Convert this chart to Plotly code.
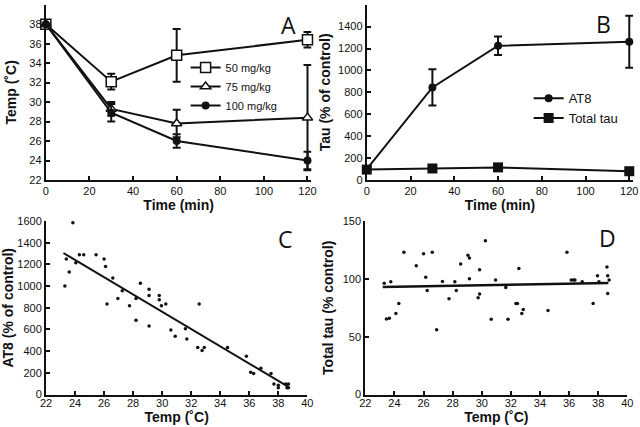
import plotly.graph_objects as go

# ---------------- Data ----------------
time_min = [0, 30, 60, 120]

temp_50 = [38.0, 32.1, 34.8, 36.4]
temp_50_err = [0, 0.8, 2.7, 0.8]
temp_75 = [38.0, 29.3, 27.8, 28.4]
temp_75_err = [0, 0.7, 1.4, 5.4]
temp_100 = [38.0, 28.9, 26.0, 24.0]
temp_100_err = [0, 0.9, 0.7, 0.9]

at8_time = [100, 845, 1225, 1262]
at8_time_err = [0, 165, 85, 238]
total_tau_time = [95, 105, 115, 80]

c_temp = [23.3, 23.4, 23.6, 23.85, 24.05, 24.3, 24.6, 25.45, 26.0, 26.1, 26.2, 26.6,
          26.95, 27.25, 27.75, 28.2, 28.2, 28.5, 29.1, 29.1, 29.1, 29.8, 29.8, 29.95,
          30.25, 30.6, 30.9, 31.6, 31.7, 32.45, 32.55, 32.75, 32.9, 34.5, 35.8, 36.1,
          36.3, 36.8, 37.5, 37.7, 38.0, 38.0, 38.5, 38.6, 38.7, 38.7]
c_at8 = [1000, 1250, 1130, 1585, 1215, 1290, 1290, 1290, 1250, 1180, 835, 1075,
         886, 957, 818, 886, 686, 1025, 970, 914, 631, 914, 874, 818,
         834, 594, 538, 606, 511, 434, 834, 406, 434, 434, 354, 206,
         194, 243, 194, 98, 86, 62, 98, 62, 98, 62]
c_fit_temp = [23.2, 38.7]
c_fit_at8 = [1305, 70]

d_temp = [23.3, 23.45, 23.65, 23.75, 24.1, 24.3, 24.65, 25.5, 26.0, 26.15, 26.25, 26.6,
          26.9, 27.3, 27.75, 28.15, 28.25, 28.55, 29.05, 29.15, 29.15, 29.75, 29.85, 29.85,
          30.25, 30.65, 30.95, 31.65, 31.8, 32.35, 32.45, 32.55, 32.75, 32.85, 34.55, 35.85,
          36.15, 36.3, 36.4, 36.9, 37.65, 37.95, 38.05, 38.6, 38.65, 38.65, 38.75]
d_tau = [96.3, 65.2, 66, 97.5, 70, 78.7, 122.9, 111.4, 121.7, 101.3, 90, 122.9,
         56, 97.8, 82.8, 97.5, 90, 112.8, 120.3, 118, 100, 83.6, 86.8, 107.9,
         133, 65, 99, 92.6, 65, 78.7, 78.7, 109, 70, 73.5, 72.7, 122.9,
         99, 99, 99, 97.5, 78.7, 102.7, 97.5, 110.2, 102.7, 87.4, 99]
d_fit_temp = [23.2, 38.7]
d_fit_tau = [93, 96.5]

# ---------------- Figure ----------------
BLACK = "#111111"
TICKFONT = dict(family="Liberation Sans, Arial, sans-serif", size=11, color=BLACK)
TITLEFONT = dict(family="Liberation Sans, Arial, sans-serif", size=14, color=BLACK, weight="bold")

fig = go.Figure()

err_style = dict(type="data", thickness=2, width=4, color=BLACK, visible=True)

# Panel A
fig.add_trace(go.Scatter(x=time_min, y=temp_50, name="50 mg/kg", mode="lines+markers",
                         line=dict(color=BLACK, width=2),
                         marker=dict(symbol="square", size=10, color="white", line=dict(color=BLACK, width=1.5)),
                         error_y=dict(array=temp_50_err, **err_style),
                         xaxis="x", yaxis="y", legend="legend", cliponaxis=False))
fig.add_trace(go.Scatter(x=time_min, y=temp_75, name="75 mg/kg", mode="lines+markers",
                         line=dict(color=BLACK, width=2),
                         marker=dict(symbol="triangle-up", size=9, color="white", line=dict(color=BLACK, width=1.5)),
                         error_y=dict(array=temp_75_err, **err_style),
                         xaxis="x", yaxis="y", legend="legend", cliponaxis=False))
fig.add_trace(go.Scatter(x=time_min, y=temp_100, name="100 mg/kg", mode="lines+markers",
                         line=dict(color=BLACK, width=2),
                         marker=dict(symbol="circle", size=8, color=BLACK),
                         error_y=dict(array=temp_100_err, **err_style),
                         xaxis="x", yaxis="y", legend="legend", cliponaxis=False))

# Panel B
fig.add_trace(go.Scatter(x=time_min, y=at8_time, name="AT8", mode="lines+markers",
                         line=dict(color=BLACK, width=2),
                         marker=dict(symbol="circle", size=8, color=BLACK),
                         error_y=dict(array=at8_time_err, **err_style),
                         xaxis="x2", yaxis="y2", legend="legend2", cliponaxis=False))
fig.add_trace(go.Scatter(x=time_min, y=total_tau_time, name="Total tau", mode="lines+markers",
                         line=dict(color=BLACK, width=2),
                         marker=dict(symbol="square", size=10, color=BLACK),
                         xaxis="x2", yaxis="y2", legend="legend2", cliponaxis=False))

# Panel C
fig.add_trace(go.Scatter(x=c_temp, y=c_at8, mode="markers", showlegend=False,
                         marker=dict(size=3.5, color=BLACK), xaxis="x3", yaxis="y3", cliponaxis=False))
fig.add_trace(go.Scatter(x=c_fit_temp, y=c_fit_at8, mode="lines", showlegend=False,
                         line=dict(color=BLACK, width=2), xaxis="x3", yaxis="y3"))

# Panel D
fig.add_trace(go.Scatter(x=d_temp, y=d_tau, mode="markers", showlegend=False,
                         marker=dict(size=3.5, color=BLACK), xaxis="x4", yaxis="y4", cliponaxis=False))
fig.add_trace(go.Scatter(x=d_fit_temp, y=d_fit_tau, mode="lines", showlegend=False,
                         line=dict(color=BLACK, width=2.5), xaxis="x4", yaxis="y4"))


def ax(**kw):
    base = dict(showline=True, linewidth=2, linecolor=BLACK, ticks="inside", ticklen=4,
                tickwidth=2, tickcolor=BLACK, showgrid=False, zeroline=False,
                tickfont=TICKFONT, title_font=TITLEFONT, fixedrange=True, automargin=False)
    base.update(kw)
    return base


fig.update_layout(
    width=640, height=427,
    margin=dict(l=0, r=0, t=0, b=0, autoexpand=False),
    paper_bgcolor="white", plot_bgcolor="white",
    font=dict(family="Liberation Sans, Arial, sans-serif", color=BLACK),
    xaxis=ax(domain=[0.0716, 0.4866], anchor="y", range=[0, 121.8], tick0=0, dtick=20,
             title=dict(text="Time (min)", standoff=2)),
    yaxis=ax(domain=[0.5785, 0.989], anchor="x", range=[22, 40], dtick=2,
             title=dict(text="Temp (˚C)", standoff=9)),
    xaxis2=ax(domain=[0.5731, 0.9894], anchor="y2", range=[0, 121.8], tick0=0, dtick=20,
              title=dict(text="Time (min)", standoff=2)),
    yaxis2=ax(domain=[0.5785, 0.989], anchor="x2", range=[0, 1600], dtick=200,
              title=dict(text="Tau (% of control)", standoff=4)),
    xaxis3=ax(domain=[0.0719, 0.4802], anchor="y3", range=[22, 40], dtick=2,
              ticklabelstandoff=-3,
              title=dict(text="Temp (˚C)", standoff=0)),
    yaxis3=ax(domain=[0.0761, 0.4824], anchor="x3", range=[0, 1600], dtick=200,
              title=dict(text="AT8 (% of control)", standoff=6)),
    xaxis4=ax(domain=[0.5708, 0.9802], anchor="y4", range=[22, 40], dtick=2,
              ticklabelstandoff=-3,
              title=dict(text="Temp (˚C)", standoff=0)),
    yaxis4=ax(domain=[0.0761, 0.4824], anchor="x4", range=[0, 150], dtick=50,
              title=dict(text="Total tau (% control)", standoff=6)),
    legend=dict(x=0.29, y=0.876, xanchor="left", yanchor="top", bgcolor="rgba(0,0,0,0)",
                font=dict(family="Liberation Sans, Arial, sans-serif", size=11, color=BLACK)),
    legend2=dict(x=0.826, y=0.805, xanchor="left", yanchor="top", bgcolor="rgba(0,0,0,0)",
                 font=dict(family="Liberation Sans, Arial, sans-serif", size=13, color=BLACK)),
    showlegend=True,
)

letter_font = dict(family="Open Sans, Noto Sans, sans-serif", size=23, color=BLACK)
for letter, xp, yp in [("A", 288, 25), ("B", 603, 24), ("C", 285, 239), ("D", 607, 238)]:
    fig.add_annotation(text=letter, x=xp / 640, y=1 - yp / 427, xref="paper", yref="paper",
                       showarrow=False, font=letter_font, xanchor="center", yanchor="middle")

fig.write_html("out.html",
               config={"displayModeBar": False},
               post_script="document.body.style.margin='0';document.body.style.overflow='hidden';")
